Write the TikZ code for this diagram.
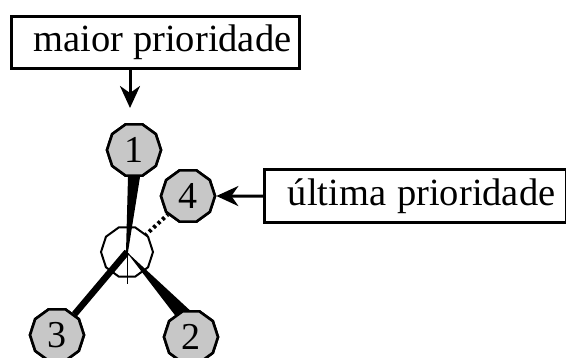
\documentclass[tikz,border=0pt]{standalone}
\usepackage{fontspec}
\setmainfont{Liberation Serif}
\usetikzlibrary{shapes.geometric,arrows.meta,calc}
\begin{document}
\begin{tikzpicture}[x=1pt,y=-1pt,
  lbl/.style={draw,line width=3.2pt,inner sep=0pt,font=\fontsize{38.5}{40}\selectfont,anchor=north west},
  atom/.style={regular polygon,regular polygon sides=10,minimum size=54pt,inner sep=0pt,draw,line width=2.6pt,fill=black!22,font=\fontsize{38}{40}\selectfont},
  arr/.style={-{Stealth[length=22pt,width=20pt,inset=7pt]},line width=3pt}]
\useasboundingbox (0,0) rectangle (566,358);
\node[lbl,minimum width=288pt,minimum height=52pt] (top) at (10,15) {\hspace*{14pt}maior prioridade\hfill};
\node[lbl,minimum width=302pt,minimum height=53pt] (right) at (263,168) {\hspace*{12pt}última\hspace{11pt}prioridade\hfill};
\node[atom] (a1) at (134,150) {1};
\node[atom] (a4) at (188,196) {4};
\node[atom] (a3) at (57,335) {3};
\node[atom] (a2) at (191,337) {2};
\draw[line width=4pt,dash pattern=on 3pt off 3pt] (127,252) -- (a4);
\node[regular polygon,regular polygon sides=10,minimum size=52pt,draw,line width=2pt,fill=white] (c) at (127,252) {};
\coordinate (cc) at (127,252);
\coordinate (h) at (127,284);
\coordinate (tip1) at (130,108);
\draw[line width=0.9pt] (cc) -- (h);
\fill ($(a1.south)+(-6,0)$) -- ++(12,0) -- ($(cc)+(1,0)$) -- ($(cc)+(-1,0)$) -- cycle;
\draw[line width=6.5pt] (cc) -- (a3);
\fill ($(cc)+(-2,-2)$) -- ($(cc)+(2,2)$) -- ($(a2)+(4,-22)$) -- ($(a2)+(-10,-14)$) -- cycle;
\node[atom] at (a1) {1};
\node[atom] at (a4) {4};
\node[atom] at (a3) {3};
\node[atom] at (a2) {2};
\draw[arr] (top.south -| tip1) -- (tip1);
\draw[arr] (right.west) -- (a4.east);
\end{tikzpicture}
\end{document}
